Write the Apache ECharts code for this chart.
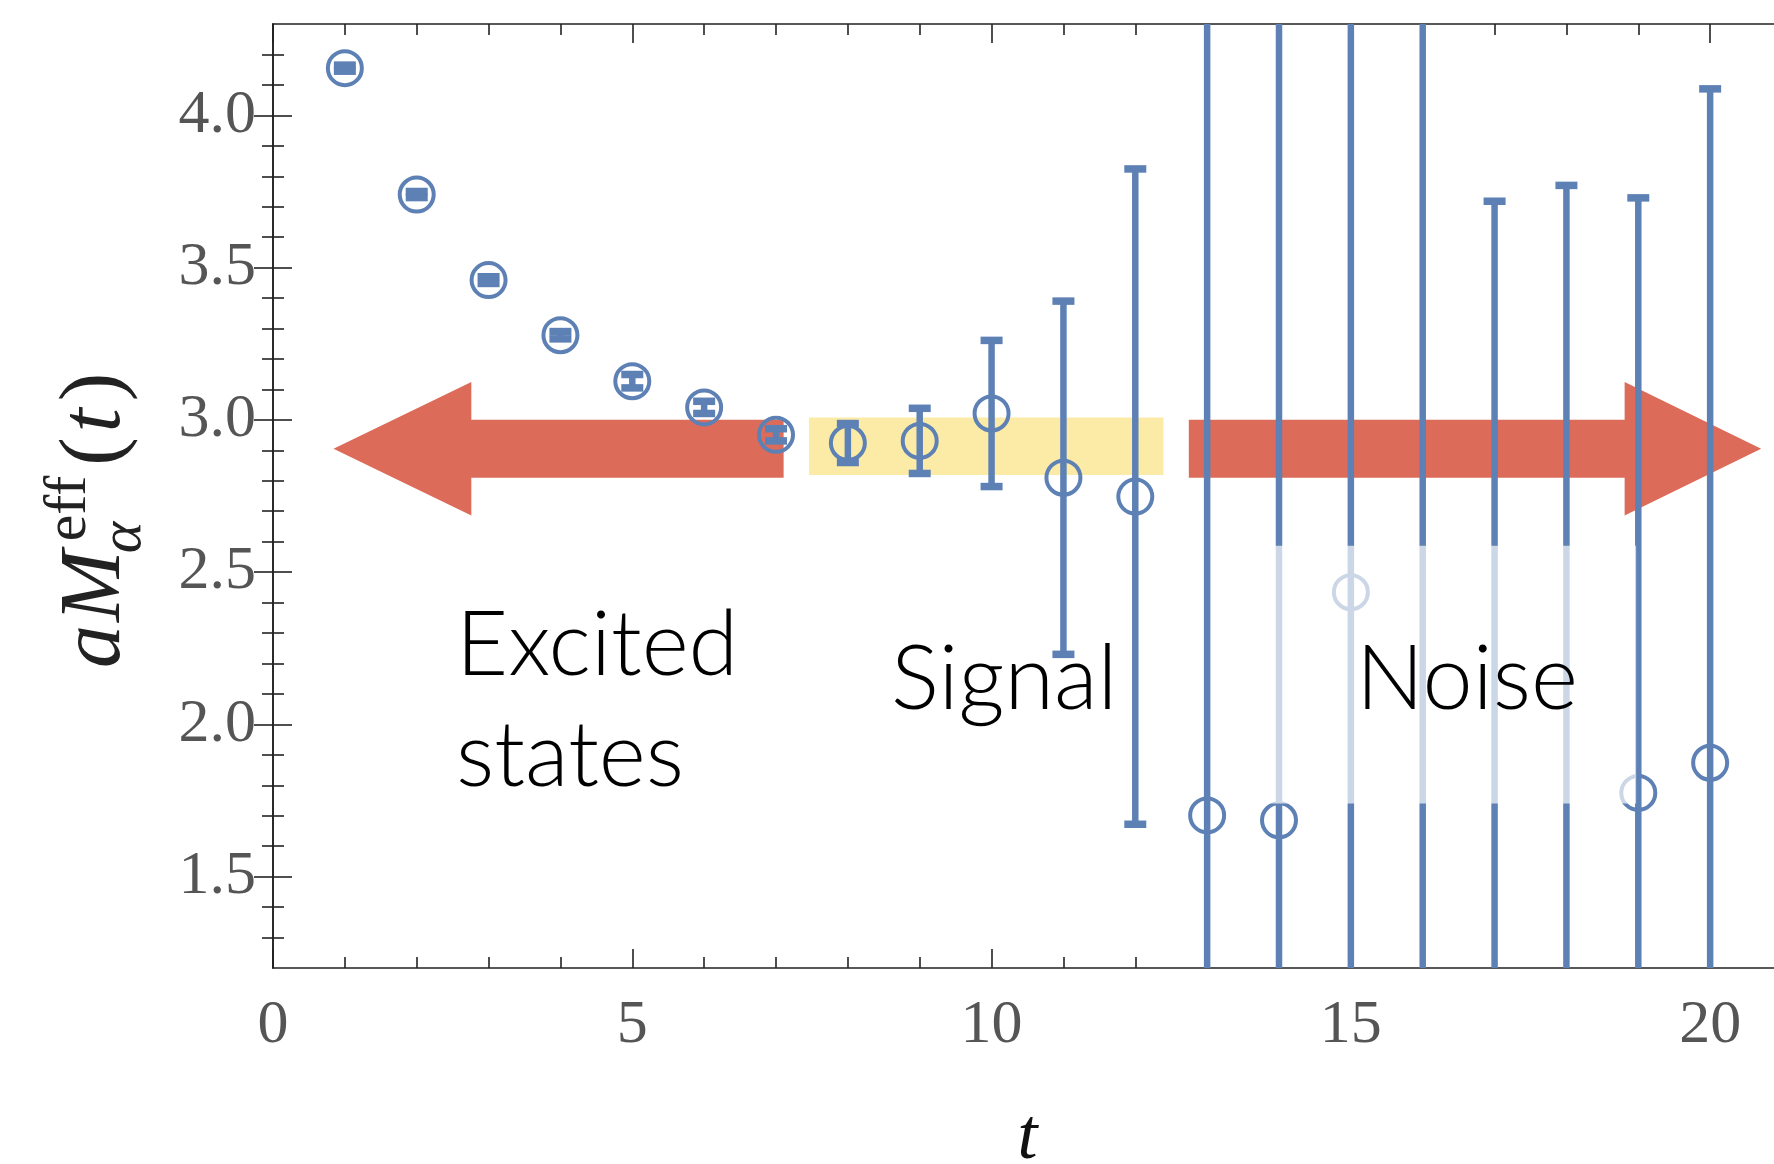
<!DOCTYPE html>
<html>
<head>
<meta charset="utf-8">
<script src="https://cdn.jsdelivr.net/npm/echarts@6/dist/echarts.min.js"></script>
<style>
  html, body { margin: 0; padding: 0; background: #fff; }
  #chart { width: 1774px; height: 1164px; }
</style>
</head>
<body>
<div id="chart"></div>
<script>
// effective mass vs t
const times = [1, 2, 3, 4, 5, 6, 7, 8, 9, 10, 11, 12, 13, 14, 15, 16, 17, 18, 19, 20];
const means = [4.155, 3.740, 3.459, 3.278, 3.127, 3.041, 2.951, 2.924, 2.931, 3.021,
               2.810, 2.748, 1.701, 1.685, 2.434, 0.600, 0.850, 0.950, 1.775, 1.874];
const errors = [0.010, 0.010, 0.011, 0.012, 0.022, 0.020, 0.020, 0.064, 0.107, 0.240,
                0.580, 1.076, 2.900, 3.100, 2.400, 4.000, 2.868, 2.820, 1.954, 2.213];

const xMajor = [0, 5, 10, 15, 20];
const xMinor = [1, 2, 3, 4, 6, 7, 8, 9, 11, 12, 13, 14, 16, 17, 18, 19];
const yMajor = [1.5, 2.0, 2.5, 3.0, 3.5, 4.0];
const yMinor = [1.3, 1.4, 1.6, 1.7, 1.8, 1.9, 2.1, 2.2, 2.3, 2.4, 2.6, 2.7, 2.8, 2.9,
                3.1, 3.2, 3.3, 3.4, 3.6, 3.7, 3.8, 3.9, 4.1, 4.2];

// annotation regions (data units)
const shaftY = [2.81, 3.0];
const headY = [2.686, 3.124];
const excitedArrow = { tail: 7.106, neck: 2.76, tip: 0.842 };
const noiseArrow = { tail: 12.745, neck: 18.81, tip: 20.71 };
const signalBand = { from: 7.458, to: 12.393, lo: 2.819, hi: 3.008 };
const fadedBox = { from: 13.5, to: 18.97, lo: 1.74, hi: 2.587 };

const BLUE = '#5E81B5';
const RED = '#DC6C59';
const YELLOW = '#FBEBA6';
const AXIS = '#222';
const LABEL_FONT = '"Liberation Serif", "DejaVu Serif", serif';
const NOTE_FONT = 'Lato, "Open Sans", sans-serif';

const chart = echarts.init(document.getElementById('chart'));

function xAxisDef(position, ticks, len, withLine, withLabel) {
  return {
    type: 'value', position: position, min: 0, max: 21,
    axisLine: { show: withLine, lineStyle: { color: AXIS, width: 1.6 } },
    axisTick: { show: true, inside: true, length: len, customValues: ticks,
                lineStyle: { color: AXIS, width: 1.6 } },
    axisLabel: withLabel ? {
      show: true, customValues: ticks, margin: 58, verticalAlign: 'middle',
      fontFamily: LABEL_FONT, fontSize: 62, color: '#555'
    } : { show: false },
    splitLine: { show: false }
  };
}

function yAxisDef(position, ticks, len, withLine, withLabel) {
  return {
    type: 'value', position: position, min: 1.2, max: 4.3,
    axisLine: { show: withLine, lineStyle: { color: AXIS, width: 1.6 } },
    axisTick: { show: true, inside: true, length: len, customValues: ticks,
                lineStyle: { color: AXIS, width: 1.6 } },
    axisLabel: withLabel ? {
      show: true, customValues: ticks, margin: 17,
      formatter: v => v.toFixed(1),
      fontFamily: LABEL_FONT, fontSize: 62, color: '#555'
    } : { show: false },
    splitLine: { show: false }
  };
}

const xAxes = [
  xAxisDef('bottom', xMajor, 19, true, true),
  xAxisDef('bottom', xMinor, 11, false, false),
  xAxisDef('top', xMajor, 19, true, false),
  xAxisDef('top', xMinor, 11, false, false)
];
xAxes[0].name = 't';
xAxes[0].nameLocation = 'middle';
xAxes[0].nameGap = 171;
xAxes[0].nameTextStyle = { fontFamily: LABEL_FONT, fontStyle: 'italic', fontSize: 72,
                           color: '#111', verticalAlign: 'middle' };

const yAxes = [
  yAxisDef('left', yMajor, 19, true, true),
  yAxisDef('left', yMinor, 11, false, false),
  yAxisDef('right', yMajor, 19, true, false),
  yAxisDef('right', yMinor, 11, false, false)
];

function arrowPoints(a, api) {
  const mid = (headY[0] + headY[1]) / 2;
  return [
    [a.tail, shaftY[1]], [a.neck, shaftY[1]], [a.neck, headY[1]], [a.tip, mid],
    [a.neck, headY[0]], [a.neck, shaftY[0]], [a.tail, shaftY[0]]
  ].map(p => api.coord(p));
}

// y axis title  a M^eff_alpha (t), drawn rotated
const ctx = document.createElement('canvas').getContext('2d');
function measure(txt, font) { ctx.font = font; return ctx.measureText(txt).width; }
const fsMain = 86, fsScript = 60;
const fMainI = 'italic ' + fsMain + 'px "Liberation Serif"';
const fMain = fsMain + 'px "Liberation Serif"';
const fScr = fsScript + 'px "Liberation Serif"';
const fScrI = 'italic ' + fsScript + 'px "Liberation Serif"';
function piece(txt, x, base, fs, italic) {
  return {
    type: 'text', x: x, y: base - 0.34 * fs,
    style: { text: txt, fontFamily: 'Liberation Serif', fontSize: fs,
             fontStyle: italic ? 'italic' : 'normal', fill: '#222',
             align: 'left', verticalAlign: 'middle' }
  };
}
const wa = measure('a', fMainI);
const wM = measure('M', fMainI);
const xScr = wa + wM + 6;
const wScr = Math.max(measure('eff', fScr), measure('α', fScrI));
const xPar = xScr + wScr + 16;
const wOpen = measure('(', fMain);
const wt = measure('t', fMainI);
const yTitle = {
  type: 'group', x: 126, y: 668, rotation: Math.PI / 2, z: 100,
  children: [
    piece('a', 0, 0, fsMain, true),
    piece('M', wa + 3, 0, fsMain, true),
    piece('eff', xScr + 6, -0.42 * fsMain, fsScript, false),
    piece('α', xScr - 6, 0.22 * fsMain, fsScript, true),
    piece('(', xPar, 0, fsMain, false),
    piece('t', xPar + wOpen + 5, 0, fsMain, true),
    piece(')', xPar + wOpen + wt + 12, 0, fsMain, false)
  ]
};

function note(txt, x, base) {
  return {
    type: 'text', x: x, y: base - 0.32 * 90, z: 100,
    style: { text: txt, fontFamily: NOTE_FONT, fontWeight: 300, fontSize: 90,
             fill: '#000', align: 'left', verticalAlign: 'middle' }
  };
}

chart.setOption({
  animation: false,
  backgroundColor: '#fff',
  grid: { left: 273, right: -8, top: 24, bottom: 196, outerBoundsMode: 'none', containLabel: false },
  xAxis: xAxes,
  yAxis: yAxes,
  graphic: [
    yTitle,
    note('Excited', 456, 675),
    note('states', 456, 786),
    note('Signal', 891, 709),
    note('Noise', 1356, 709)
  ],
  series: [
    {
      // arrows and signal band
      type: 'custom', z: 1, silent: true,
      data: [[0]],
      renderItem: function (params, api) {
        const b0 = api.coord([signalBand.from, signalBand.hi]);
        const b1 = api.coord([signalBand.to, signalBand.lo]);
        return {
          type: 'group', children: [
            { type: 'rect', shape: { x: b0[0], y: b0[1], width: b1[0] - b0[0], height: b1[1] - b0[1] },
              style: { fill: YELLOW } },
            { type: 'polygon', shape: { points: arrowPoints(excitedArrow, api) }, style: { fill: RED } },
            { type: 'polygon', shape: { points: arrowPoints(noiseArrow, api) }, style: { fill: RED } }
          ]
        };
      }
    },
    {
      // error bars
      type: 'custom', z: 3, clip: true, silent: true,
      data: times.map((t, i) => [t, means[i], errors[i]]),
      renderItem: function (params, api) {
        const x = api.value(0), y = api.value(1), e = api.value(2);
        const hi = api.coord([x, y + e]);
        const lo = api.coord([x, y - e]);
        const w = 11;
        const st = { stroke: BLUE, lineWidth: 6.5 };
        const cap = { stroke: BLUE, lineWidth: 7.5 };
        return {
          type: 'group', children: [
            { type: 'line', shape: { x1: hi[0], y1: hi[1], x2: lo[0], y2: lo[1] }, style: st },
            { type: 'line', shape: { x1: hi[0] - w, y1: hi[1], x2: hi[0] + w, y2: hi[1] }, style: cap },
            { type: 'line', shape: { x1: lo[0] - w, y1: lo[1], x2: lo[0] + w, y2: lo[1] }, style: cap }
          ]
        };
      }
    },
    {
      type: 'scatter', z: 4, clip: true, silent: true,
      data: times.map((t, i) => [t, means[i]]),
      symbol: 'circle', symbolSize: 34,
      itemStyle: { color: 'rgba(0,0,0,0)', borderColor: BLUE, borderWidth: 4, opacity: 1 }
    },
    {
      // faded part behind the "Noise" label
      type: 'custom', z: 5, silent: true,
      data: [[0]],
      renderItem: function (params, api) {
        const p0 = api.coord([fadedBox.from, fadedBox.hi]);
        const p1 = api.coord([fadedBox.to, fadedBox.lo]);
        return { type: 'rect', shape: { x: p0[0], y: p0[1], width: p1[0] - p0[0], height: p1[1] - p0[1] },
                 style: { fill: 'rgba(255,255,255,0.68)' } };
      }
    }
  ]
});
</script>
</body>
</html>
